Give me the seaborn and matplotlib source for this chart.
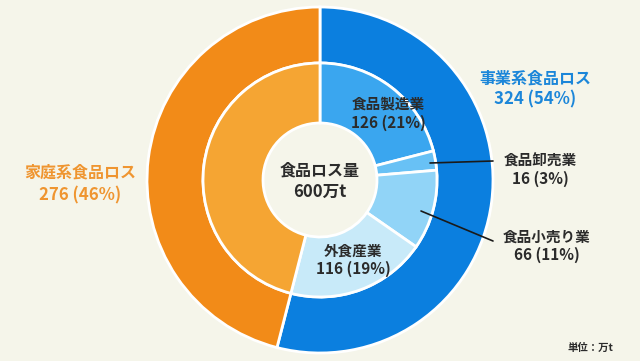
import matplotlib
matplotlib.use('Agg')
import matplotlib.pyplot as plt
import seaborn as sns

# outer ring
outer_labels = ['事業系食品ロス', '家庭系食品ロス']
outer_values = [324, 276]
outer_pct = [54, 46]
outer_colors = ['#0b7fdf', '#f28b18']

# inner ring
inner_labels = ['食品製造業', '食品卸売業', '食品小売り業', '外食産業', '家庭系']
inner_values = [126, 16, 66, 116, 276]
inner_pct = [21, 3, 11, 19, 46]
inner_colors = ['#3aa6ef', '#68c1f5', '#91d4f7', '#c8eaf9', '#f5a533']

total = 600
bg = '#f5f5ea'

sns.set_theme(style='white')
plt.rcParams['font.family'] = ['Noto Sans CJK JP', 'DejaVu Sans']

fig = plt.figure(figsize=(6.4, 3.61), dpi=100, facecolor=bg)
ax = fig.add_axes([0, 0, 1, 1])
ax.set_facecolor(bg)

cx, cy = 320, 180
# y axis is inverted, so counterclock=True draws clockwise on screen
ax.pie(outer_values, colors=outer_colors, radius=173, center=(cx, cy),
       startangle=-90, counterclock=True,
       wedgeprops=dict(width=56, edgecolor='white', linewidth=2))
ax.pie(inner_values, colors=inner_colors, radius=117, center=(cx, cy),
       startangle=-90, counterclock=True,
       wedgeprops=dict(width=60, edgecolor='white', linewidth=2))
ax.set_xlim(0, 640)
ax.set_ylim(361, 0)
ax.set_aspect('equal')
ax.axis('off')

dark = '#2b2b2b'
fs = 10.5

def label(x, y, name, val, pct, color=dark, size=fs, gap=19):
    ax.text(x, y, name, ha='center', va='center', fontsize=size, color=color, fontweight='bold')
    ax.text(x, y + gap, f'{val} ({pct}%)', ha='center', va='center', fontsize=size * 1.05,
            color=color, fontweight='bold')

label(388, 104, inner_labels[0], inner_values[0], inner_pct[0])
label(540, 161, inner_labels[1], inner_values[1], inner_pct[1], gap=18)
label(547, 237, inner_labels[2], inner_values[2], inner_pct[2], gap=18)
label(353, 251, inner_labels[3], inner_values[3], inner_pct[3], gap=18)
label(535, 78, outer_labels[0], outer_values[0], outer_pct[0], color='#1b86d9', size=11.5, gap=21)
label(80, 172, outer_labels[1], outer_values[1], outer_pct[1], color='#ef9530', size=11.5, gap=23)

ax.text(cx, cy - 10, '食品ロス量', ha='center', va='center', fontsize=11.5, color=dark, fontweight='bold')
ax.text(cx, cy + 12, f'{total}万t', ha='center', va='center', fontsize=12, color=dark, fontweight='bold')

ax.plot([430, 493], [163, 161], color='#1a1a1a', lw=1.2)
ax.plot([421, 493], [211, 241], color='#1a1a1a', lw=1.2)

ax.text(590, 348, '単位：万t', ha='center', va='center', fontsize=7.5, color=dark, fontweight='bold')

fig.savefig('out.png', dpi=100, facecolor=bg)
